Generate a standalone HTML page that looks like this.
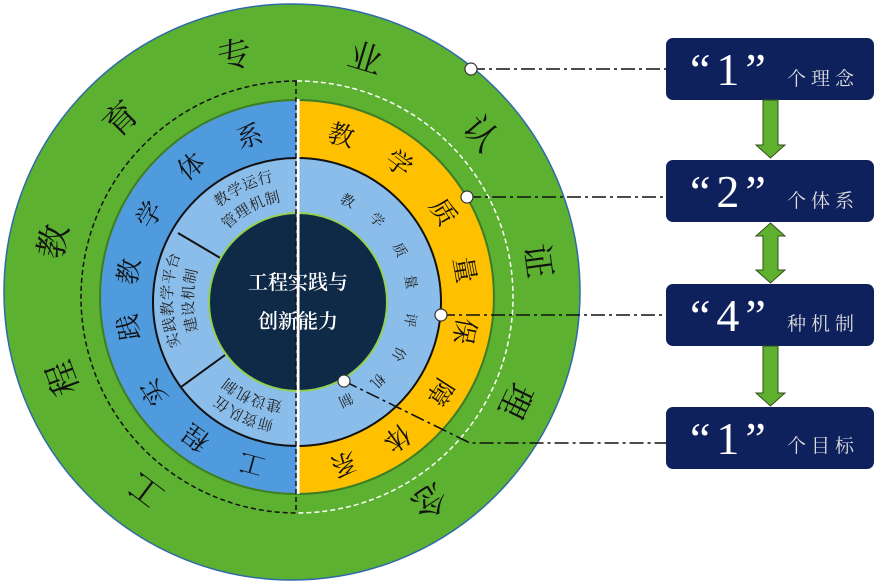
<!DOCTYPE html>
<html><head><meta charset="utf-8"><style>
html,body{margin:0;padding:0;background:#fff;}
svg{display:block;}
.o{font-family:"Liberation Serif","Noto Serif CJK SC","Noto Sans CJK SC",serif;font-size:34px;fill:#111;}
.m{font-family:"Liberation Serif","Noto Serif CJK SC","Noto Sans CJK SC",serif;font-size:26px;fill:#111;}
.s{font-family:"Liberation Serif","Noto Serif CJK SC","Noto Sans CJK SC",serif;font-size:14px;fill:#222;}
.t{font-family:"Liberation Serif","Noto Serif CJK SC","Noto Sans CJK SC",serif;font-size:15px;fill:#222;letter-spacing:1px;}
.c{font-family:"Liberation Serif","Noto Serif CJK SC","Noto Sans CJK SC",serif;font-size:20px;fill:#fff;font-weight:600;}
.q{font-family:"Liberation Serif",serif;font-size:46px;fill:#fff;letter-spacing:6px;}
.k{font-family:"Liberation Serif","Noto Serif CJK SC","Noto Sans CJK SC",serif;font-size:19px;fill:#ddd;letter-spacing:5px;}
</style></head><body>
<svg width="882" height="586" viewBox="0 0 882 586" xmlns="http://www.w3.org/2000/svg">
<defs>
<path id="a1" d="M 208.6 211.6 A 125 125 0 0 1 284.3 175.6"/>
<path id="a2" d="M 220.6 231.5 A 104 104 0 0 1 287.0 196.5"/>
<path id="a3" d="M 176.3 345.0 A 129 129 0 0 1 176.3 255.0"/>
<path id="a4" d="M 195.8 337.0 A 108 108 0 0 1 195.8 263.0"/>
<path id="a5" d="M 296.0 426.0 A 126 126 0 0 1 199.0 382.0"/>
<path id="a6" d="M 296.0 406.0 A 106 106 0 0 1 214.0 370.0"/>
</defs>
<circle cx="292" cy="292" r="288" fill="#5db130" stroke="#2e6aa8" stroke-width="1.5"/>
<path d="M297 81 A 216 216 0 0 0 297 513" fill="none" stroke="#111" stroke-width="1.5" stroke-dasharray="5,3"/>
<path d="M297 81 A 216 216 0 0 1 297 513" fill="none" stroke="#fff" stroke-width="1.5" stroke-dasharray="5,3"/>
<path d="M297 101 A 196 196 0 0 0 297 493 Z" fill="#509ade"/>
<path d="M297 101 A 196 196 0 0 1 297 493 Z" fill="#ffc000"/>
<circle cx="297" cy="297" r="197" fill="none" stroke="#3e7d25" stroke-width="2"/>
<circle cx="297" cy="302" r="144" fill="#8bbdea" stroke="#111" stroke-width="2"/>
<line x1="178" y1="233" x2="222" y2="259" stroke="#111" stroke-width="2"/>
<line x1="181" y1="387" x2="225" y2="355" stroke="#111" stroke-width="2"/>
<circle cx="298" cy="302" r="89" fill="#0f2a47" stroke="#92d050" stroke-width="2"/>
<line x1="298" y1="99" x2="298" y2="494" stroke="#fff" stroke-width="3"/>
<line x1="296" y1="81" x2="296" y2="513" stroke="#111" stroke-width="1.5" stroke-dasharray="5,3"/>

<g class="o" text-anchor="middle" dominant-baseline="central">
<text transform="translate(294,294) rotate(-143) translate(0,-245)">工</text>
<text transform="translate(294,294) rotate(-110) translate(0,-245)">程</text>
<text transform="translate(294,294) rotate(-77.7) translate(0,-245)">教</text>
<text transform="translate(294,294) rotate(-44.7) translate(0,-245)">育</text>
<text transform="translate(294,294) rotate(-13.9) translate(0,-245)">专</text>
<text transform="translate(294,294) rotate(16.8) translate(0,-245)">业</text>
<text transform="translate(294,294) rotate(49.4) translate(0,-245)">认</text>
<text transform="translate(294,294) rotate(82.3) translate(0,-245)">证</text>
<text transform="translate(294,294) rotate(115.7) translate(0,-245)">理</text>
<text transform="translate(294,294) rotate(146.8) translate(0,-245)">念</text>
</g>
<g class="m" text-anchor="middle" dominant-baseline="central">
<text transform="translate(297,300) rotate(-164.6) translate(0,-170)">工</text>
<text transform="translate(297,300) rotate(-143.7) translate(0,-170)">程</text>
<text transform="translate(297,300) rotate(-122.8) translate(0,-170)">实</text>
<text transform="translate(297,300) rotate(-99.2) translate(0,-170)">践</text>
<text transform="translate(297,300) rotate(-80.4) translate(0,-170)">教</text>
<text transform="translate(297,300) rotate(-59.9) translate(0,-170)">学</text>
<text transform="translate(297,300) rotate(-38.4) translate(0,-170)">体</text>
<text transform="translate(297,300) rotate(-16.2) translate(0,-170)">系</text>
<text transform="translate(297,300) rotate(15) translate(0,-170)">教</text>
<text transform="translate(297,300) rotate(36.7) translate(0,-170)">学</text>
<text transform="translate(297,300) rotate(58.9) translate(0,-170)">质</text>
<text transform="translate(297,300) rotate(79.8) translate(0,-170)">量</text>
<text transform="translate(297,300) rotate(100.6) translate(0,-170)">保</text>
<text transform="translate(297,300) rotate(122.8) translate(0,-170)">障</text>
<text transform="translate(297,300) rotate(144.1) translate(0,-170)">体</text>
<text transform="translate(297,300) rotate(164.1) translate(0,-170)">系</text>
</g>
<g class="s" text-anchor="middle" dominant-baseline="central">
<text transform="translate(297,300) rotate(27) translate(0,-110)">教</text>
<text transform="translate(297,300) rotate(45) translate(0,-112)">学</text>
<text transform="translate(297,300) rotate(64) translate(0,-113)">质</text>
<text transform="translate(297,300) rotate(81) translate(0,-114)">量</text>
<text transform="translate(297,300) rotate(100) translate(0,-114)">评</text>
<text transform="translate(297,300) rotate(118) translate(0,-114)">价</text>
<text transform="translate(297,300) rotate(135) translate(0,-113)">机</text>
<text transform="translate(297,300) rotate(154) translate(0,-110)">制</text>
</g>
<g class="t" text-anchor="middle" dominant-baseline="central">
<text><textPath href="#a1" startOffset="50%">教学运行</textPath></text>
<text><textPath href="#a2" startOffset="50%">管理机制</textPath></text>
<text><textPath href="#a3" startOffset="50%">实践教学平台</textPath></text>
<text><textPath href="#a4" startOffset="50%">建设机制</textPath></text>
<text><textPath href="#a5" startOffset="50%">师资队伍</textPath></text>
<text><textPath href="#a6" startOffset="50%">建设机制</textPath></text>
</g>
<text class="c" x="298" y="289" text-anchor="middle">工程实践与</text>
<text class="c" x="298" y="328" text-anchor="middle">创新能力</text>

<g fill="none" stroke="#111" stroke-width="1.6" stroke-dasharray="14,4,3,4">
<line x1="471" y1="69" x2="666" y2="69"/>
<line x1="467" y1="197" x2="666" y2="197"/>
<line x1="441" y1="315" x2="666" y2="315"/>
<polyline points="344,381 470,443 666,443"/>
</g>
<g fill="#fff" stroke="#333" stroke-width="1.2">
<circle cx="471" cy="69" r="6"/>
<circle cx="467" cy="197" r="6"/>
<circle cx="441" cy="315" r="6"/>
<circle cx="344" cy="381" r="6"/>
</g>

<g fill="#0e215d">
<rect x="666" y="38" width="208" height="62" rx="7"/>
<rect x="666" y="160" width="208" height="62" rx="7"/>
<rect x="666" y="284" width="208" height="62" rx="7"/>
<rect x="666" y="407" width="208" height="62" rx="7"/>
</g>
<g class="q">
<text x="690" y="85">“1”</text>
<text x="690" y="207">“2”</text>
<text x="690" y="331">“4”</text>
<text x="690" y="454">“1”</text>
</g>
<g class="k">
<text x="787" y="85">个理念</text>
<text x="787" y="207">个体系</text>
<text x="787" y="330">种机制</text>
<text x="787" y="452">个目标</text>
</g>
<g fill="#5fb02f" stroke="#2f4f1a" stroke-width="1">
<polygon points="763,100 778,100 778,145 785,145 770.5,158 756,145 763,145"/>
<polygon points="770.5,223 785,236 778,236 778,270 785,270 770.5,283 756,270 763,270 763,236 756,236"/>
<polygon points="763,346 778,346 778,393 785,393 770.5,406 756,393 763,393"/>
</g>
</svg>
</body></html>
